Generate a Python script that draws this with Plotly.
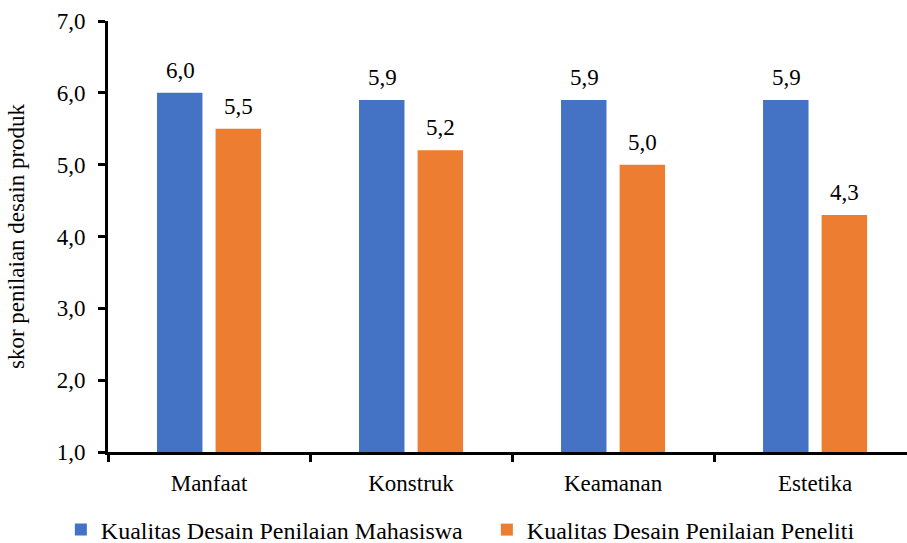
import plotly.graph_objects as go

categories = ["Manfaat", "Konstruk", "Keamanan", "Estetika"]
mahasiswa = [6.0, 5.9, 5.9, 5.9]
peneliti = [5.5, 5.2, 5.0, 4.3]
series_names = ["Kualitas Desain Penilaian Mahasiswa", "Kualitas Desain Penilaian Peneliti"]
y_title = "skor penilaian desain produk"

BLUE = "#4472C4"
ORANGE = "#ED7D31"
FONT = "Liberation Serif, Times New Roman, serif"


def fmt(v):
    return f"{v:.1f}".replace(".", ",")


fig = go.Figure()
fig.add_trace(go.Bar(x=categories, y=mahasiswa, name=series_names[0],
                     marker=dict(color=BLUE, line=dict(width=0))))
fig.add_trace(go.Bar(x=categories, y=peneliti, name=series_names[1],
                     marker=dict(color=ORANGE, line=dict(width=0))))

# value labels above each bar
for vals, shift in ((mahasiswa, -29), (peneliti, 29)):
    for c, v in zip(categories, vals):
        fig.add_annotation(x=c, y=v, text=fmt(v), showarrow=False,
                           xref="x", yref="y", xshift=shift, yshift=8,
                           yanchor="bottom", font=dict(size=23, color="black", family=FONT))

fig.update_layout(
    width=907, height=543,
    margin=dict(l=108, r=0, t=21, b=91, autoexpand=False),
    paper_bgcolor="white", plot_bgcolor="white",
    font=dict(family=FONT, size=23, color="black"),
    separators=",.",
    barmode="group", bargap=0.42, bargroupgap=0.224,
    showlegend=True,
    legend=dict(orientation="h", x=-0.059, xanchor="left", y=-0.181, yanchor="middle",
                entrywidth=381, entrywidthmode="pixels", itemwidth=30,
                font=dict(size=24, family=FONT), bgcolor="rgba(0,0,0,0)"),
)
fig.update_xaxes(type="category", range=[-0.5, 3.455],
                 showline=True, linecolor="black", linewidth=3,
                 ticks="outside", tickson="boundaries", ticklen=7, tickwidth=3, tickcolor="black",
                 showgrid=False, ticklabelstandoff=8,
                 tickfont=dict(size=23, family=FONT))
fig.update_yaxes(range=[1, 7], dtick=1, tick0=1, tickformat=".1f",
                 showline=True, linecolor="black", linewidth=3,
                 ticks="outside", ticklen=7, tickwidth=3, tickcolor="black",
                 showgrid=False, zeroline=False, ticklabelstandoff=8,
                 tickfont=dict(size=23, family=FONT),
                 title=dict(text=y_title, font=dict(size=23, family=FONT), standoff=26))

fig.write_html("out.html")
